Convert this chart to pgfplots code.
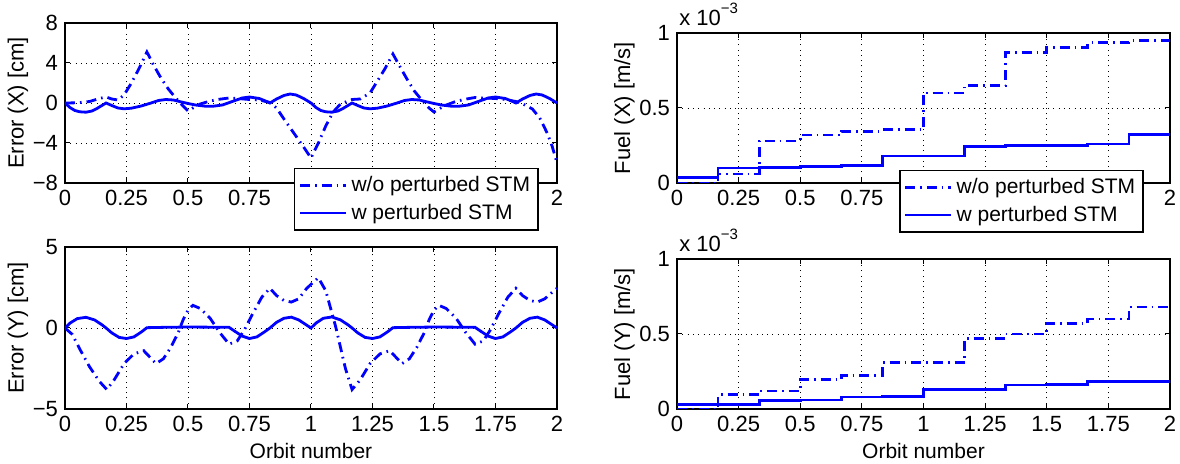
\documentclass[border=0pt]{standalone}
\usepackage{fontspec}
\setmainfont{Liberation Sans}
\usepackage{pgfplots}
\pgfplotsset{compat=1.18}

\pgfplotsset{
 mat/.style={
  scale only axis,
  xmin=0, xmax=2,
  xtick={0,0.25,0.5,0.75,1,1.25,1.5,1.75,2},
  xticklabels={0,0.25,0.5,0.75,1,1.25,1.5,1.75,2},
  grid=major,
  major grid style={black, line width=0.45pt, dash pattern=on 0.45pt off 2.2pt},
  axis line style={line width=1.3pt},
  tick align=inside,
  major tick length=2.5pt,
  every tick/.style={black, line width=0.5pt},
  tick label style={font=\fontsize{11}{13}\selectfont},
  ylabel style={font=\fontsize{11}{13}\selectfont, yshift=-4.5pt},
  xlabel style={font=\fontsize{10.5}{12}\selectfont, yshift=1pt},
  /pgf/number format/assume math mode=true,
  clip mode=individual,
 },
 toplbl/.style={xticklabels={0,0.25,0.5,0.75,,,,,2}},
 wo/.style={blue, line width=1.4pt, dash pattern=on 5pt off 2.5pt on 0.8pt off 2.5pt},
 w/.style={blue, line width=1.4pt},
 mleg/.style={legend style={at={(#1)}, anchor=north east, draw=black, line width=0.7pt,
   fill=white, font=\fontsize{10.5}{12.5}\selectfont, inner xsep=2pt, inner ysep=2pt, row sep=0.5pt,
   cells={anchor=west}},
   legend image code/.code={\draw[##1] (0pt,0pt) -- (23pt,0pt);}},
}

\begin{document}
\begin{tikzpicture}
\useasboundingbox (0,0) rectangle (590pt,-232pt);

% ---------------- Top left: Error X
\begin{axis}[mat, toplbl, at={(32.5pt,-11.5pt)}, anchor=north west,
  width=246pt, height=80pt,
  ymin=-8, ymax=8, ytick={-8,-4,0,4,8}, yticklabels={−8,−4,0,4,8},
  ylabel={Error (X) [cm]},
  mleg={0.963,0.094}]
\addplot[wo] coordinates {
(0,0) (0.05,0.02) (0.1,0.15) (0.14,0.45) (0.167,0.6) (0.19,0.4) (0.215,0.3) (0.24,0.8)
(0.27,2.0) (0.3,3.4) (0.333,5.1) (0.36,3.8) (0.39,2.5) (0.42,1.4) (0.45,0.5) (0.48,-0.3)
(0.5,-0.8) (0.52,-0.5) (0.55,-0.1) (0.583,0.15) (0.62,0.35) (0.667,0.5) (0.7,0.45)
(0.75,0.35) (0.79,0.3) (0.833,0.05) (0.86,-0.5) (0.89,-1.6) (0.93,-3.0) (0.97,-4.4)
(1.0,-5.5) (1.03,-4.0) (1.06,-2.3) (1.09,-0.9) (1.12,-0.1) (1.167,0.35) (1.2,0.4)
(1.24,1.0) (1.27,2.2) (1.3,3.4) (1.333,4.9) (1.36,3.7) (1.39,2.4) (1.42,1.2) (1.45,0.3)
(1.48,-0.5) (1.5,-0.9) (1.52,-0.6) (1.55,-0.2) (1.583,0.1) (1.62,0.35) (1.667,0.55)
(1.7,0.5) (1.75,0.45) (1.79,0.35) (1.833,0.15) (1.87,-0.2) (1.9,-0.6) (1.93,-1.5)
(1.96,-3.0) (1.98,-4.3) (2.0,-6.0)};
\addlegendentry{w/o perturbed STM}
\addplot[w] coordinates {
(0,0) (0.02,-0.45) (0.04,-0.75) (0.06,-0.88) (0.085,-0.92) (0.11,-0.8) (0.13,-0.55)
(0.15,-0.25) (0.167,0.0) (0.19,-0.25) (0.215,-0.5) (0.24,-0.58) (0.27,-0.52) (0.31,-0.3)
(0.35,0.0) (0.38,0.25) (0.41,0.35) (0.44,0.3) (0.47,0.12) (0.5,-0.05) (0.53,-0.2)
(0.57,-0.32) (0.6,-0.33) (0.64,-0.2) (0.68,0.15) (0.72,0.5) (0.75,0.6) (0.79,0.45)
(0.815,0.2) (0.833,0.0) (0.86,0.4) (0.89,0.75) (0.915,0.9) (0.94,0.8) (0.97,0.45)
(1.0,0.0) (1.02,-0.45) (1.04,-0.75) (1.06,-0.88) (1.085,-0.92) (1.11,-0.8) (1.13,-0.55)
(1.15,-0.25) (1.167,0.0) (1.19,-0.25) (1.215,-0.5) (1.24,-0.58) (1.27,-0.52) (1.31,-0.3)
(1.35,0.0) (1.38,0.25) (1.41,0.35) (1.44,0.3) (1.47,0.12) (1.5,-0.05) (1.53,-0.2)
(1.57,-0.32) (1.6,-0.33) (1.64,-0.2) (1.68,0.15) (1.72,0.5) (1.75,0.6) (1.79,0.45)
(1.815,0.2) (1.833,0.0) (1.86,0.4) (1.89,0.75) (1.915,0.9) (1.94,0.8) (1.97,0.45)
(2.0,0.0)};
\addlegendentry{w perturbed STM}
\end{axis}

% ---------------- Bottom left: Error Y
\begin{axis}[mat, at={(32.5pt,-123.5pt)}, anchor=north west,
  width=246pt, height=81pt,
  ymin=-5, ymax=5, ytick={-5,0,5}, yticklabels={−5,0,5},
  ylabel={Error (Y) [cm]}, xlabel={Orbit number}]
\addplot[wo] coordinates {
(0,0) (0.03,-0.4) (0.06,-1.3) (0.1,-2.4) (0.14,-3.3) (0.17,-3.8) (0.2,-3.2) (0.24,-2.2)
(0.28,-1.6) (0.32,-1.4) (0.345,-1.8) (0.37,-2.2) (0.4,-1.9) (0.43,-1.2) (0.46,-0.3)
(0.48,0.5) (0.5,1.1) (0.52,1.4) (0.55,1.2) (0.59,0.6) (0.63,-0.3) (0.667,-1.0) (0.7,-0.8)
(0.73,-0.1) (0.76,0.8) (0.8,1.9) (0.833,2.45) (0.86,2.0) (0.89,1.7) (0.92,1.6) (0.95,1.8)
(0.98,2.4) (1.0,2.7) (1.03,3.1) (1.06,2.3) (1.08,1.2) (1.1,0.1) (1.12,-1.2) (1.14,-2.5)
(1.167,-3.8) (1.2,-3.2) (1.24,-2.2) (1.28,-1.6) (1.32,-1.4) (1.345,-1.8) (1.37,-2.2)
(1.4,-1.9) (1.43,-1.2) (1.46,-0.3) (1.48,0.5) (1.5,1.1) (1.52,1.4) (1.55,1.2) (1.59,0.6)
(1.63,-0.3) (1.667,-1.0) (1.7,-0.8) (1.73,-0.1) (1.76,0.8) (1.8,1.9) (1.833,2.45)
(1.86,2.0) (1.89,1.7) (1.92,1.6) (1.95,1.8) (1.98,2.2) (2.0,2.45)};
\addplot[w] coordinates {
(0,0) (0.02,0.3) (0.05,0.58) (0.085,0.66) (0.12,0.5) (0.15,0.2) (0.167,0.0) (0.19,-0.3)
(0.22,-0.58) (0.25,-0.65) (0.28,-0.55) (0.31,-0.25) (0.333,0.02) (0.4,0.04) (0.5,0.06)
(0.6,0.05) (0.667,0.04) (0.69,-0.2) (0.72,-0.5) (0.75,-0.65) (0.78,-0.55) (0.81,-0.25)
(0.833,0.0) (0.86,0.35) (0.89,0.6) (0.92,0.67) (0.95,0.5) (0.98,0.2) (1.0,0.0)
(1.02,0.3) (1.05,0.6) (1.085,0.68) (1.12,0.5) (1.15,0.2) (1.167,0.0) (1.19,-0.3)
(1.22,-0.58) (1.25,-0.65) (1.28,-0.55) (1.31,-0.25) (1.333,0.02) (1.4,0.04) (1.5,0.06)
(1.6,0.05) (1.667,0.04) (1.69,-0.2) (1.72,-0.5) (1.75,-0.65) (1.78,-0.55) (1.81,-0.25)
(1.833,0.0) (1.86,0.35) (1.89,0.6) (1.92,0.67) (1.95,0.5) (1.98,0.2) (2.0,0.0)};
\end{axis}

% ---------------- Top right: Fuel X
\begin{axis}[mat, toplbl, at={(338.5pt,-16.5pt)}, anchor=north west,
  width=246.5pt, height=75pt,
  ymin=0, ymax=1, ytick={0,0.5,1}, yticklabels={0,0.5,1},
  ylabel={Fuel (X) [m/s]},
  mleg={0.947,0.087}]
\addplot[wo, const plot] coordinates {
(0,0) (0.1667,0.06) (0.3333,0.28) (0.5,0.32) (0.6667,0.345) (0.8333,0.355) (1.0,0.60)
(1.1667,0.65) (1.3333,0.87) (1.5,0.905) (1.6667,0.935) (1.8333,0.95) (2.0,0.95)};
\addlegendentry{w/o perturbed STM}
\addplot[w, const plot] coordinates {
(0,0.035) (0.1667,0.10) (0.3333,0.105) (0.5,0.11) (0.6667,0.115) (0.8333,0.18) (1.0,0.18)
(1.1667,0.245) (1.3333,0.25) (1.5,0.25) (1.6667,0.26) (1.8333,0.325) (2.0,0.325)};
\addlegendentry{w perturbed STM}
\node[anchor=south west, inner sep=0pt, xshift=1pt, yshift=3.5pt, font=\fontsize{11}{13}\selectfont]
  at (rel axis cs:0,1) {x 10\raisebox{1ex}{\fontsize{7.5}{8}\selectfont −3}};
\end{axis}

% ---------------- Bottom right: Fuel Y
\begin{axis}[mat, at={(338.5pt,-129.5pt)}, anchor=north west,
  width=246.5pt, height=75pt,
  ymin=0, ymax=1, ytick={0,0.5,1}, yticklabels={0,0.5,1},
  ylabel={Fuel (Y) [m/s]}, xlabel={Orbit number}]
\addplot[wo, const plot] coordinates {
(0,0) (0.1667,0.095) (0.3333,0.12) (0.5,0.195) (0.6667,0.225) (0.8333,0.31) (1.0,0.31)
(1.1667,0.47) (1.3333,0.50) (1.5,0.57) (1.6667,0.60) (1.8333,0.68) (2.0,0.68)};
\addplot[w, const plot] coordinates {
(0,0.03) (0.3333,0.055) (0.5,0.06) (0.6667,0.08) (0.8333,0.085) (1.0,0.13)
(1.3333,0.16) (1.5,0.165) (1.6667,0.185) (2.0,0.19)};
\node[anchor=south west, inner sep=0pt, xshift=1pt, yshift=3.5pt, font=\fontsize{11}{13}\selectfont]
  at (rel axis cs:0,1) {x 10\raisebox{1ex}{\fontsize{7.5}{8}\selectfont −3}};
\end{axis}
\end{tikzpicture}
\end{document}
